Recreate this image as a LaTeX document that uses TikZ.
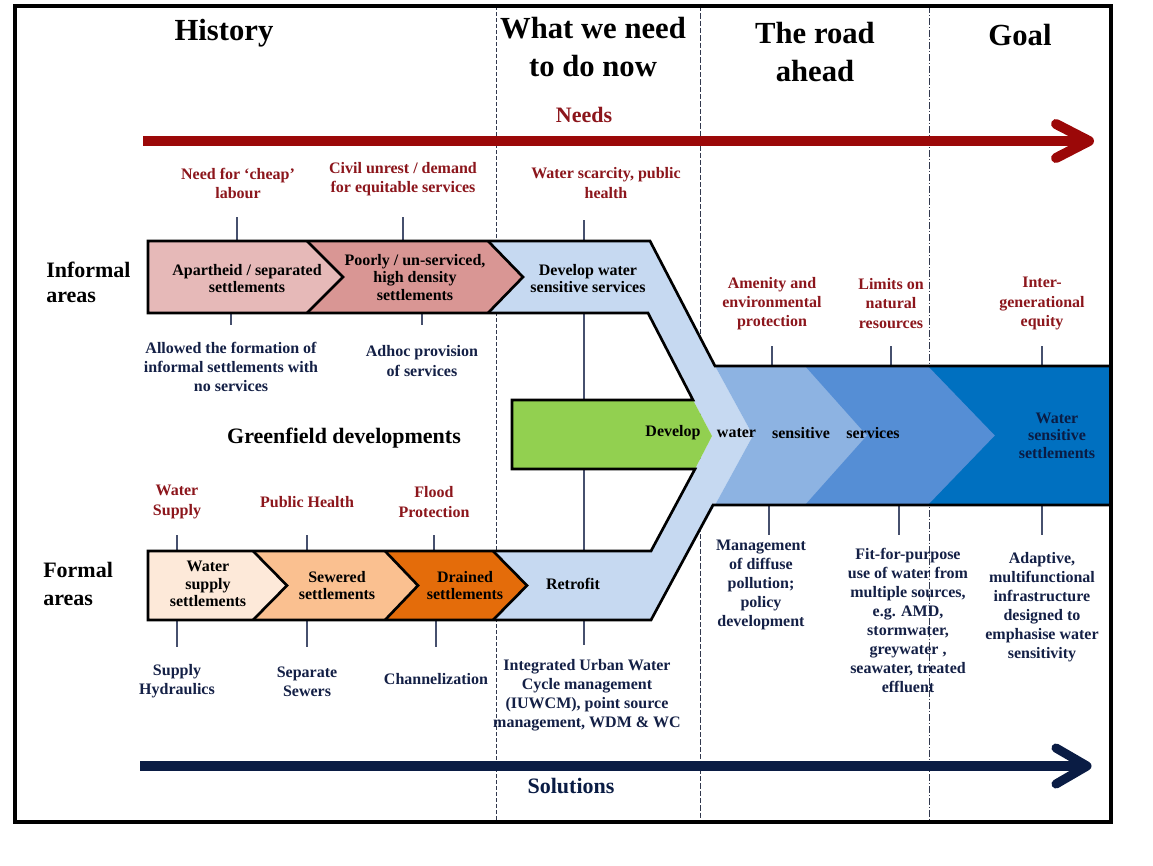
\documentclass[tikz,border=0pt]{standalone}
\usepackage{fontspec}
\setmainfont{Liberation Serif}
\definecolor{needred}{RGB}{155,8,8}
\definecolor{labred}{RGB}{140,22,28}
\definecolor{solnavy}{RGB}{10,28,68}
\definecolor{labnavy}{RGB}{20,32,70}
\definecolor{tickgrey}{RGB}{70,80,110}
\definecolor{pinkA}{RGB}{230,185,184}
\definecolor{pinkB}{RGB}{217,150,148}
\definecolor{peachA}{RGB}{253,233,217}
\definecolor{peachB}{RGB}{250,192,144}
\definecolor{orangeC}{RGB}{228,108,10}
\definecolor{blueA}{RGB}{198,217,241}
\definecolor{blueB}{RGB}{141,179,226}
\definecolor{blueC}{RGB}{85,142,213}
\definecolor{blueD}{RGB}{0,112,192}
\definecolor{greenA}{RGB}{146,208,80}
\newcommand\tickline[4]{%
  \coordinate (#1a) at (#2,#3);
  \coordinate (#1b) at (#2,#4);
  \draw[tick] (#1a) -- (#1b);}
\begin{document}
\begin{tikzpicture}[x=0.75pt,y=-0.75pt,
  every node/.style={inner sep=0pt},
  title/.style={font=\bfseries\fontsize{23}{28}\selectfont, align=center},
  head/.style={font=\bfseries\fontsize{16.5}{19}\selectfont, align=left},
  need/.style={font=\bfseries\fontsize{12}{14.3}\selectfont, align=center, text=labred},
  sol/.style={font=\bfseries\fontsize{12}{14.3}\selectfont, align=center, text=labnavy},
  band/.style={font=\bfseries\fontsize{12}{13}\selectfont, align=center, text=black},
  tick/.style={draw=tickgrey, line width=0.8pt},
  divide/.style={draw=tickgrey!70!black, line width=0.6pt},
  outline/.style={draw=black, line width=2pt, line join=miter},
  bigarrow/.style={line width=#1, line cap=round, line join=round}
]
\useasboundingbox (0,0) rectangle (1153,865);
\fill[white] (0,0) rectangle (1153,865);

% column separators
\coordinate (d1t) at (496,6);  \coordinate (d1b) at (496,822);
\coordinate (d2t) at (700,6);  \coordinate (d2b) at (700,822);
\coordinate (d3t) at (929,6);  \coordinate (d3b) at (929,822);
\draw[divide, dash pattern=on 3pt off 1.5pt] (d1t) -- (d1b);
\draw[divide, dash pattern=on 4pt off 1.5pt] (d2t) -- (d2b);
\draw[divide, dash pattern=on 5pt off 1.5pt on 1pt off 1.5pt] (d3t) -- (d3b);

% column titles
\node[title] (hist) at (224,33) {History};
\node[title] (now)  at (593,47) {What we need\\to do now};
\node[title] (road) at (815,52) {The road\\ahead};
\node[title] (goal) at (1020,35) {Goal};

% needs arrow
\node[head, text=labred] (needs) at (584,115) {Needs};
\coordinate (na) at (143,141); \coordinate (nb) at (1080,141);
\coordinate (nu) at (1056,124); \coordinate (nt) at (1089,141); \coordinate (nl) at (1056,158);
\draw[needred, line width=7.5pt] (na) -- (nb);
\draw[needred, bigarrow=7.5pt] (nu) -- (nt) -- (nl);

% solutions arrow
\node[head, text=solnavy] (sols) at (571,786) {Solutions};
\coordinate (sa) at (140,766); \coordinate (sb) at (1080,766);
\coordinate (su) at (1056,748); \coordinate (st) at (1087,766); \coordinate (sl) at (1056,784);
\draw[solnavy, line width=6.8pt] (sa) -- (sb);
\draw[solnavy, bigarrow=6.8pt] (su) -- (st) -- (sl);

% ticks
\tickline{tn1}{237}{217}{241}
\tickline{tn2}{403}{217}{241}
\tickline{tn3}{584}{220}{645}
\tickline{ti1}{231}{313}{325}
\tickline{ti2}{422}{313}{325}
\tickline{tf1}{177}{535}{551}
\tickline{tf2}{307}{535}{551}
\tickline{tf3}{434}{535}{551}
\tickline{ts1}{177}{620}{647}
\tickline{ts2}{307}{620}{647}
\tickline{ts3}{436}{620}{647}
\tickline{tr1}{772}{346}{366}
\tickline{tr2}{891}{346}{366}
\tickline{tr3}{1042}{346}{366}
\tickline{tm1}{769}{505}{535}
\tickline{tm2}{899}{505}{535}
\tickline{tm3}{1042}{505}{535}

% light blue pathway joining both bands
\fill[blueA] (488,241) -- (650,241) -- (715,366) -- (753,435.5) -- (715,505)
  -- (651,620) -- (493,620) -- (527,585.5) -- (493,551) -- (651,551)
  -- (695,469) -- (712,436) -- (693,400) -- (648,313) -- (488,313) -- (523,277) -- cycle;
% blue chevrons towards the goal
\fill[blueB] (715,366) -- (1110,366) -- (1110,505) -- (715,505) -- (753,435.5) -- cycle;
\fill[blueC] (805,366) -- (1110,366) -- (1110,505) -- (805,505) -- (867,435.5) -- cycle;
\fill[blueD] (928,366) -- (1110,366) -- (1110,505) -- (928,505) -- (995,435.5) -- cycle;
% greenfield arrow
\fill[greenA] (512,400) -- (693,400) -- (712,436) -- (695,469) -- (512,469) -- cycle;
% informal band
\fill[pinkA] (148,241) -- (307,241) -- (343,277) -- (307,313) -- (148,313) -- cycle;
\fill[pinkB] (307,241) -- (488,241) -- (523,277) -- (488,313) -- (307,313) -- (343,277) -- cycle;
% formal band
\fill[peachA] (148,551) -- (253,551) -- (287,585.5) -- (253,620) -- (148,620) -- cycle;
\fill[peachB] (253,551) -- (385,551) -- (418,585.5) -- (385,620) -- (253,620) -- (287,585.5) -- cycle;
\fill[orangeC] (385,551) -- (493,551) -- (527,585.5) -- (493,620) -- (385,620) -- (418,585.5) -- cycle;

% outlines
\draw[outline] (1110,366) -- (715,366) -- (650,241) -- (148,241) -- (148,313) -- (648,313)
  -- (693,400) -- (512,400) -- (512,469) -- (695,469) -- (651,551) -- (148,551)
  -- (148,620) -- (651,620) -- (713,505) -- (1110,505);
\draw[outline] (307,241) -- (343,277) -- (307,313);
\draw[outline] (488,241) -- (523,277) -- (488,313);
\draw[outline] (253,551) -- (287,585.5) -- (253,620);
\draw[outline] (385,551) -- (418,585.5) -- (385,620);
\draw[outline] (493,551) -- (527,585.5) -- (493,620);

% row headings
\node[head, anchor=west, font=\bfseries\fontsize{16.5}{18.8}\selectfont] (inf) at (46,282.5) {Informal\\areas};
\node[head, anchor=west, font=\bfseries\fontsize{16.5}{21}\selectfont] (form) at (43,584) {Formal\\areas};
\node[head] (green) at (344,438) {Greenfield developments};

% needs labels
\node[need] (n1) at (238,183) {Need for ‘cheap’\\labour};
\node[need] (n2) at (403,179) {Civil unrest / demand\\for equitable services};
\node[need] (n3) at (606,183) {Water scarcity, public\\health};
\node[need] (f1) at (177,502) {Water\\Supply};
\node[need] (f2) at (307,502) {Public Health};
\node[need] (f3) at (434,502) {Flood\\Protection};
\node[need] (r1) at (772,303.5) {Amenity and\\environmental\\protection};
\node[need] (r2) at (891,303.5) {Limits on\\natural\\resources};
\node[need] (r3) at (1042,303.5) {Inter-\\generational\\equity};

% band texts
\node[band] (b1) at (247,278.5) {Apartheid / separated\\settlements};
\node[band] (b2) at (415,277.5) {Poorly / un-serviced,\\high density\\settlements};
\node[band] (b3) at (588,278.5) {Develop water\\sensitive services};
\node[band] (w1) at (208,584) {Water\\supply\\settlements};
\node[band] (w2) at (337,585.5) {Sewered\\settlements};
\node[band] (w3) at (465,585.5) {Drained\\settlements};
\node[band] (w4) at (573,584) {Retrofit};
\node[band] (g1) at (673,433) {Develop};
\node[band] (g2) at (736.5,433) {water};
\node[band] (g3) at (801,433) {sensitive};
\node[band] (g4) at (873,433) {services};
\node[band, text=solnavy] (goalbox) at (1057,435.5) {Water\\sensitive\\settlements};

% solution labels
\node[sol] (i1) at (231,366.7) {Allowed the formation of\\informal settlements with\\no services};
\node[sol] (i2) at (422,361) {Adhoc provision\\of services};
\node[sol] (s1) at (177,681.5) {Supply\\Hydraulics};
\node[sol] (s2) at (307,681.5) {Separate\\Sewers};
\node[sol] (s3) at (436,679.3) {Channelization};
\node[sol] (s4) at (587,695) {Integrated Urban Water\\Cycle management\\(IUWCM), point source\\management, WDM \& WC};
\node[sol] (m1) at (761,585) {Management\\of diffuse\\pollution;\\policy\\development};
\node[sol] (m2) at (908,620.3) {Fit-for-purpose\\use of water from\\multiple sources,\\e.g. AMD,\\stormwater,\\greywater ,\\seawater, treated\\effluent};
\node[sol] (m3) at (1042,607) {Adaptive,\\multifunctional\\infrastructure\\designed to\\emphasise water\\sensitivity};

% frame
\draw[line width=3pt] (15,6) rectangle (1111,822);
\end{tikzpicture}
\end{document}
